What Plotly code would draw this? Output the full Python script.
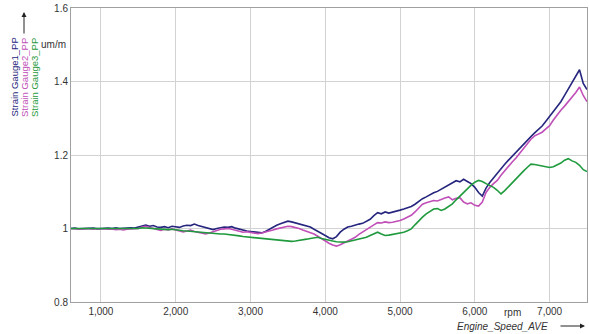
import plotly.graph_objects as go

# Engine speed sample grid (rpm), one sample every 50 rpm
rpm = list(range(600, 7501, 50))

gauge1 = [
    1.000, 1.001, 0.999, 1.000, 0.999, 1.000, 1.001, 0.999, 1.000, 0.999,
    1.001, 1.000, 1.002, 1.000, 1.001, 1.000, 1.002, 1.001, 1.003, 1.006,
    1.009, 1.006, 1.008, 1.004, 1.003, 1.005, 1.002, 1.006, 1.004, 1.003,
    1.007, 1.009, 1.008, 1.012, 1.008, 1.005, 1.003, 0.999, 0.997, 1.000,
    1.002, 1.004, 1.003, 1.005, 1.001, 0.998, 0.996, 0.993, 0.992, 0.990,
    0.989, 0.988, 0.992, 0.998, 1.004, 1.009, 1.013, 1.016, 1.020, 1.018,
    1.015, 1.012, 1.008, 1.006, 1.004, 0.998, 0.993, 0.986, 0.981, 0.975,
    0.972, 0.978, 0.990, 0.998, 1.004, 1.006, 1.010, 1.012, 1.014, 1.020,
    1.025, 1.035, 1.043, 1.040, 1.045, 1.042, 1.044, 1.046, 1.050, 1.053,
    1.056, 1.060, 1.066, 1.074, 1.081, 1.086, 1.092, 1.097, 1.101, 1.107,
    1.114, 1.120, 1.126, 1.130, 1.127, 1.134, 1.128, 1.122, 1.112, 1.098,
    1.088, 1.110, 1.125, 1.138, 1.150, 1.163, 1.175, 1.186, 1.197, 1.207,
    1.218, 1.229, 1.240, 1.250, 1.260, 1.270, 1.279, 1.292, 1.305, 1.318,
    1.330, 1.345, 1.362, 1.380, 1.398, 1.412, 1.432, 1.395, 1.378,
]

gauge2 = [
    1.000, 0.999, 1.000, 0.998, 1.000, 0.999, 0.998, 1.000, 0.999, 1.000,
    0.998, 0.999, 0.997, 0.998, 0.996, 0.998, 0.999, 1.001, 1.000, 1.004,
    1.006, 1.003, 1.001, 0.997, 0.995, 0.998, 0.996, 0.999, 0.996, 0.993,
    0.991, 0.993, 0.996, 0.992, 0.990, 0.987, 0.985, 0.988, 0.992, 0.995,
    0.998, 0.999, 1.000, 0.998, 0.995, 0.992, 0.990, 0.991, 0.989, 0.988,
    0.986, 0.988, 0.990, 0.993, 0.996, 0.999, 1.002, 1.004, 1.006, 1.005,
    1.003, 1.000, 0.996, 0.993, 0.990, 0.985, 0.979, 0.972, 0.966, 0.960,
    0.955, 0.952, 0.956, 0.960, 0.966, 0.971, 0.976, 0.984, 0.991, 0.997,
    1.003, 1.010, 1.016, 1.015, 1.018, 1.016, 1.017, 1.019, 1.022, 1.026,
    1.031, 1.036, 1.045, 1.057, 1.066, 1.070, 1.073, 1.076, 1.075, 1.080,
    1.083, 1.086, 1.078, 1.082, 1.084, 1.072, 1.067, 1.070, 1.063, 1.061,
    1.072, 1.098, 1.112, 1.122, 1.131, 1.145, 1.158, 1.170, 1.181, 1.192,
    1.205, 1.218, 1.231, 1.243, 1.252, 1.256, 1.262, 1.271, 1.280, 1.295,
    1.310, 1.322, 1.333, 1.345, 1.358, 1.370, 1.385, 1.362, 1.345,
]

gauge3 = [
    1.000, 1.000, 0.999, 1.000, 0.999, 1.000, 0.999, 1.000, 0.999, 0.999,
    1.000, 0.999, 0.999, 0.998, 0.999, 0.999, 0.998, 0.999, 1.000, 1.002,
    1.001, 1.000, 0.999, 0.998, 0.999, 0.998, 0.997, 0.998, 0.996, 0.995,
    0.994, 0.993, 0.992, 0.991, 0.990, 0.989, 0.989, 0.988, 0.987, 0.986,
    0.985, 0.985, 0.984, 0.984, 0.982, 0.980, 0.978, 0.977, 0.976, 0.975,
    0.973, 0.972, 0.971, 0.970, 0.969, 0.968, 0.967, 0.966, 0.966, 0.965,
    0.966, 0.967, 0.969, 0.971, 0.973, 0.975, 0.976, 0.973, 0.970, 0.968,
    0.966, 0.964, 0.963, 0.963, 0.964, 0.966, 0.968, 0.970, 0.972, 0.976,
    0.981, 0.986, 0.990, 0.985, 0.981, 0.982, 0.984, 0.985, 0.986, 0.990,
    0.994, 0.999, 1.010, 1.022, 1.031, 1.040, 1.047, 1.053, 1.054, 1.049,
    1.053, 1.060, 1.067, 1.078, 1.089, 1.098, 1.108, 1.118, 1.126, 1.131,
    1.128, 1.122, 1.118, 1.112, 1.104, 1.094, 1.103, 1.114, 1.123, 1.134,
    1.145, 1.156, 1.166, 1.175, 1.174, 1.172, 1.170, 1.168, 1.166, 1.168,
    1.172, 1.178, 1.186, 1.190, 1.184, 1.180, 1.172, 1.160, 1.155,
]

names = ["Strain Gauge1_PP", "Strain Gauge2_PP", "Strain Gauge3_PP"]
colors = ["#26267e", "#c04fb8", "#1f9a3c"]
x_ticks = [1000, 2000, 3000, 4000, 5000, 6000, 7000]
y_ticks = [0.8, 1.0, 1.2, 1.4, 1.6]
y_tick_text = ["0.8", "1", "1.2", "1.4", "1.6"]

W, H = 589, 334
L, R, T, B = 71, 2, 8, 32
PW, PH = W - L - R, H - T - B


def px(x):
    return (x - L) / PW


def py(y):
    return 1 - (y - T) / PH


fig = go.Figure()
for name, vals, col in zip(names, [gauge1, gauge2, gauge3], colors):
    fig.add_trace(go.Scatter(x=rpm, y=vals, mode="lines", name=name,
                             line=dict(color=col, width=1.6)))

font = dict(family="Liberation Sans, Arial, sans-serif", size=10, color="#333333")

fig.update_layout(
    width=W, height=H,
    margin=dict(l=L, r=R, t=T, b=B),
    paper_bgcolor="white", plot_bgcolor="white",
    showlegend=False, font=font,
    xaxis=dict(range=[600, 7500], tickvals=x_ticks, tickformat=",d",
               showgrid=True, gridcolor="#d2d2d2", gridwidth=1,
               showline=True, linecolor="#a0a0a0", linewidth=1, mirror=True,
               ticks="", zeroline=False, tickfont=font),
    yaxis=dict(range=[0.8, 1.6], tickvals=y_ticks, ticktext=y_tick_text,
               showgrid=True, gridcolor="#d2d2d2", gridwidth=1,
               showline=True, linecolor="#a0a0a0", linewidth=1, mirror=True,
               ticks="", zeroline=False, tickfont=font),
)

# vertical legend labels on the left, reading bottom to top
for name, col, cx in zip(names, colors, [14, 24.5, 34.5]):
    fig.add_annotation(text=name, xref="paper", yref="paper",
                       x=px(cx), y=py(119), textangle=-90, showarrow=False,
                       xanchor="center", yanchor="bottom",
                       font=dict(family=font["family"], size=9.5, color=col))

# unit label and axis arrows
fig.add_annotation(text="um/m", xref="paper", yref="paper", x=px(53), y=py(44),
                   showarrow=False, xanchor="center", yanchor="middle", font=font)
fig.add_annotation(text="", xref="paper", yref="paper", x=px(24), y=py(12),
                   ax=0, ay=23, showarrow=True, arrowhead=2, arrowsize=1,
                   arrowwidth=1, arrowcolor="#222222")
fig.add_annotation(text="rpm", xref="paper", yref="paper", x=px(512), y=py(312),
                   showarrow=False, xanchor="center", yanchor="middle", font=font)
fig.add_annotation(text="<i>Engine_Speed_AVE</i>", xref="paper", yref="paper",
                   x=px(550), y=py(326), showarrow=False, xanchor="right",
                   yanchor="middle", font=font)
fig.add_annotation(text="", xref="paper", yref="paper", x=px(585), y=py(326),
                   ax=-26, ay=0, showarrow=True, arrowhead=2, arrowsize=1,
                   arrowwidth=1, arrowcolor="#222222")

fig.write_html("out.html")
